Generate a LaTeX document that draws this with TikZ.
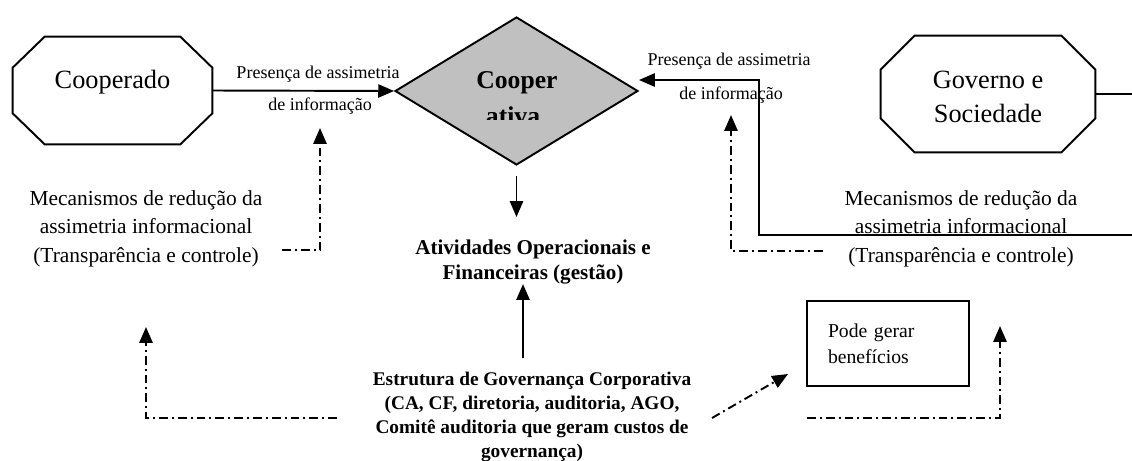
\documentclass[tikz,border=0pt]{standalone}
\usepackage{fontspec}
\setmainfont{Liberation Serif}
\usepackage{tikz}
\usetikzlibrary{shapes,arrows.meta,positioning,calc}
\definecolor{hubgray}{RGB}{192,192,192}

% octagon outline round a named node: node, chamfer in x, chamfer in y
\newcommand{\partyframe}[3]{%
  \draw[line width=1.1pt] ([xshift=#2]#1.north west) -- ([xshift=-#2]#1.north east)
    -- ([yshift=-#3]#1.north east) -- ([yshift=#3]#1.south east)
    -- ([xshift=-#2]#1.south east) -- ([xshift=#2]#1.south west)
    -- ([yshift=#3]#1.south west) -- ([yshift=-#3]#1.north west) -- cycle;}

\begin{document}
\begin{tikzpicture}[x=0.02cm, y=-0.02cm,
  party/.style={rectangle, align=center, inner sep=0pt, font=\fontsize{15}{19.9}\selectfont},
  hub/.style={draw, diamond, fill=hubgray, line width=1.1pt, inner sep=0pt, minimum width=4.86cm, minimum height=2.96cm},
  hubtext/.style={font=\fontsize{14.6}{18}\selectfont\bfseries, inner sep=0pt, anchor=base},
  hint/.style={font=\fontsize{10.25}{12}\selectfont, inner sep=0pt, anchor=base},
  mechtext/.style={font=\fontsize{12.2}{16.2}\selectfont, align=center, inner sep=0pt, anchor=north},
  opstext/.style={font=\fontsize{12}{13.7}\selectfont\bfseries, align=center, inner sep=0pt, anchor=north},
  boardtext/.style={font=\fontsize{11}{13.7}\selectfont\bfseries, align=center, inner sep=0pt, anchor=north},
  notebox/.style={draw, line width=1.1pt, text width=2.4cm, inner xsep=0.42cm, minimum height=1.7cm, align=left, font=\fontsize{11.2}{14.8}\selectfont},
  flow/.style={line width=1.1pt, -{Triangle[length=9pt,width=7.5pt]}},
  hintflow/.style={flow, dash pattern=on 5pt off 2.3pt on 1.1pt off 2.3pt}
]
  \useasboundingbox (0,0) rectangle (1132,460);

  % actors and the cooperative
  \node[party, minimum width=3.98cm, minimum height=2.14cm, text height=0.34cm, text depth=0.44cm] (member) at (112.5,90.5) {Cooperado};
  \partyframe{member}{0.64cm}{0.62cm}
  \node[party, minimum width=4.28cm, minimum height=2.32cm, text height=1.36cm, text depth=0.2cm] (state) at (988,94) {Governo e\\Sociedade};
  \partyframe{state}{0.68cm}{0.68cm}
  \node[hub] (coop) at (516.5,91) {};
  \node[hubtext] (cooptop) at (517,88) {Cooper};
  \begin{scope}
    \clip (395,60) rectangle (640,119);
    \node[hubtext] (coopbot) at (513,124) {ativa};
  \end{scope}

  % labels on the top arrows
  \node[hint] (askL) at (318,78) {Presença de assimetria};
  \node[hint] (infoL) at (320,110) {de informação};
  \node[hint] (askR) at (729,65) {Presença de assimetria};
  \node[hint] (infoR) at (731,99) {de informação};

  \node[mechtext] (mechL) at (146,190) {Mecanismos de redução da\\assimetria informacional\\(Transparência e controle)};
  \node[mechtext] (mechR) at (961,190) {Mecanismos de redução da\\assimetria informacional\\(Transparência e controle)};

  \node[opstext] (ops) at (533,240) {Atividades Operacionais e\\Financeiras (gestão)};
  \node[boardtext] (board) at (532,372) {Estrutura de Governança Corporativa\\(CA, CF, diretoria, auditoria, AGO,\\Comitê auditoria que geram custos de\\governança)};
  \node[notebox] (gain) at (888,343.5) {Pode gerar\\benefícios};

  % solid arrows
  \draw[flow] (member.east) -- (coop.west);
  \coordinate (loopB) at (759,235);
  \coordinate (loopT) at (759,80);
  \draw[flow] (state.east) -- ++(60,0) |- (loopB) -- (loopT) -- (loopT -| coop.east);
  \draw[flow, shorten <=0.2cm, shorten >=0.46cm] (coop.south) -- (coop.south |- ops.north);
  \coordinate (boardtop) at ([xshift=-0.18cm]board.north);
  \draw[flow, shorten <=0.28cm] (boardtop) -- (boardtop |- ops.south);

  % dash-dot arrows
  \coordinate (hL1) at (282,250);
  \coordinate (hL2) at (320,128);
  \coordinate (hR1) at (823,251);
  \coordinate (hR2) at (731,115);
  \coordinate (hB1) at (337,418);
  \coordinate (hB2) at (146,327);
  \coordinate (hC1) at (807,418);
  \coordinate (hC2) at (1000,326);
  \coordinate (hD1) at (712,418);
  \coordinate (hD2) at (788,374);
  \draw[hintflow] (hL1) -| (hL2);
  \draw[hintflow] (hR1) -| (hR2);
  \draw[hintflow] (hB1) -| (hB2);
  \draw[hintflow] (hC1) -| (hC2);
  \draw[hintflow] (hD1) -- (hD2);
\end{tikzpicture}
\end{document}
